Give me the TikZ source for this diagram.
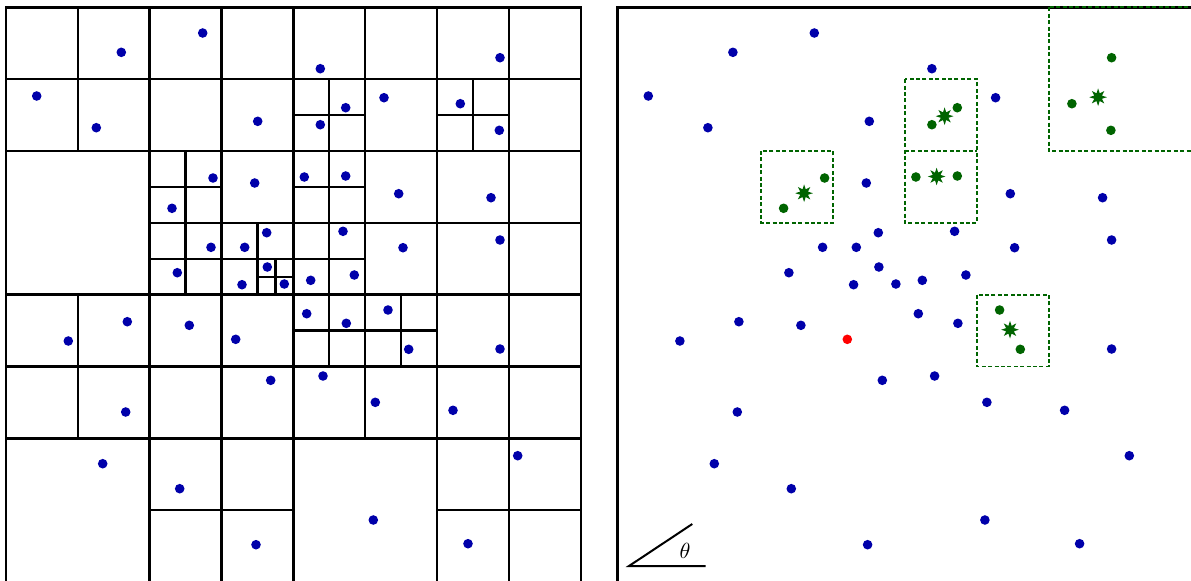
\documentclass[tikz,border=0pt]{standalone}
\usetikzlibrary{shapes.geometric}
\definecolor{dblue}{RGB}{0,0,170}
\definecolor{dgreen}{RGB}{0,100,0}
\def\ptlist{121.3/52.3/b, 202.7/33/b, 36.7/96/b, 96.3/127.7/b, 257.7/121.3/b,
213/178/g, 254.7/183/b, 172/208.3/g, 266.7/232.7/b, 211/247.3/b, 244.7/247.3/b,
267.3/267/b, 177.3/272.7/b, 242/284.7/b, 284.3/284/b,
320.3/68.7/b, 500/57.7/g, 345.7/107.7/g, 320.3/124.7/g, 384/97.7/b, 460.3/103.7/g,
499.3/130.3/g, 304.3/177/g, 345.7/176/g, 398.7/193.7/b, 491/197.7/b, 343/231.3/b,
403/247.7/b, 500/240/b, 310.7/280.3/b, 354.3/275/b,
127.3/321.7/b, 68.3/341/b, 189.3/325.3/b, 235.7/339.3/r, 270.7/380.3/b, 125.7/412/b,
102.7/463.7/b, 179.7/488.7/b, 256/544.7/b,
306.7/313.7/b, 346.3/323.3/b, 388/310/g, 408.7/349.3/g, 500/349/b, 323/376/b,
375.3/402.3/b, 453/410.3/b, 517.7/455.7/b, 373.3/520/b, 468/543.7/b}
\begin{document}
\begin{tikzpicture}[x=0.5pt,y=-0.5pt,
  gridline/.style={line width=1.2pt,black,line cap=rect},
  dotb/.style={fill=dblue},
  dotg/.style={fill=dgreen},
  dotr/.style={fill=red},
  grpbox/.style={draw=dgreen,line width=0.9pt,dash pattern=on 2pt off 1.2pt},
  starnode/.style={star,star points=8,star point ratio=2.1,fill=dgreen,draw=none,inner sep=0pt,minimum size=8.8pt},
  anglearm/.style={line width=1pt,black}]
\useasboundingbox (0,0) rectangle (1191,580);
% left panel: quadtree
\begin{scope}[shift={(6,7.3)},x=35.92pt,y=-35.92pt]
\draw[gridline] (0,0) rectangle (8,8);
\draw[gridline] (4,0)--(4,8) (0,4)--(8,4) (2,0)--(2,8) (6,0)--(6,8) (0,2)--(8,2) (0,6)--(8,6);
\draw[gridline] (1,0)--(1,2) (1,4)--(1,6) (3,0)--(3,8) (5,0)--(5,6) (7,0)--(7,8)
  (0,1)--(8,1) (2,3)--(8,3) (0,5)--(8,5) (2,7)--(4,7) (6,7)--(8,7);
\draw[gridline] (2.5,2)--(2.5,4) (3.5,3)--(3.5,4) (4.5,1)--(4.5,5) (5.5,4)--(5.5,5) (6.5,1)--(6.5,2)
  (4,1.5)--(5,1.5) (6,1.5)--(7,1.5) (2,2.5)--(3,2.5) (4,2.5)--(5,2.5) (2,3.5)--(5,3.5) (4,4.5)--(6,4.5);
\draw[gridline] (3.75,3.5)--(3.75,4) (3.5,3.75)--(4,3.75);
\end{scope}
\foreach \x/\y/\c in \ptlist {\fill[dotb] (\x,\y) circle[radius=2.4pt];}
% right panel
\begin{scope}[shift={(617.6,7.3)},x=35.92pt,y=-35.92pt]
\draw[gridline] (0,0) rectangle (8,8);
\draw[grpbox] (2,2) rectangle (3,3);
\draw[grpbox] (4,1) rectangle (5,3) (4,2)--(5,2);
\draw[grpbox] (6,0) rectangle (8,2);
\draw[grpbox] (5,4) rectangle (6,5);
\end{scope}
\foreach \x/\y/\c in \ptlist {\fill[dot\c] (\x+611.6,\y) circle[radius=2.4pt];}
\node[starnode] (s1) at (804.1,193.2) {};
\node[starnode] (s2) at (944.6,116.2) {};
\node[starnode] (s3) at (936.6,176.5) {};
\node[starnode] (s4) at (1098.1,97.2) {};
\node[starnode] (s5) at (1010.0,329.7) {};
% angle theta
\coordinate (tO) at (629,566);
\coordinate (tA) at (705.7,566);
\coordinate (tB) at (692.3,524);
\draw[anglearm] (tA)--(tO)--(tB);
\node[font=\fontsize{11}{13}\selectfont,inner sep=0pt] (th) at (685,551) {$\theta$};
\end{tikzpicture}
\end{document}
